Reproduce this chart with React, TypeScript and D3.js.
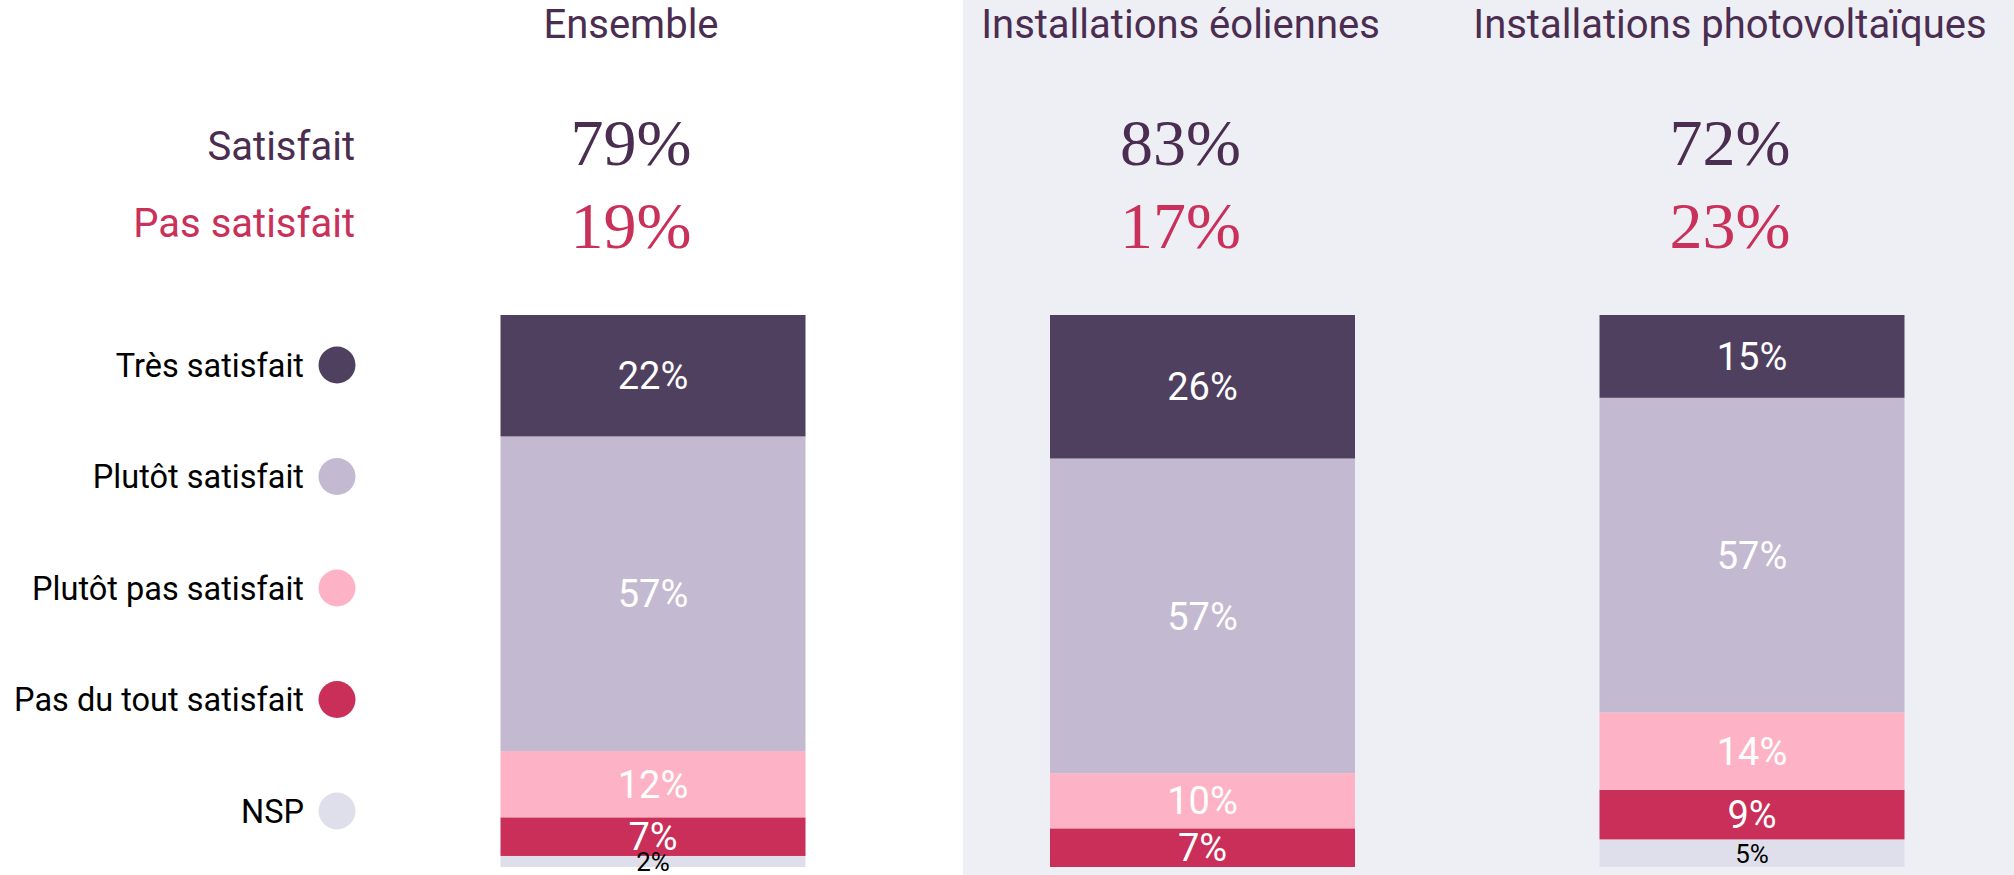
import React, { useEffect, useRef } from 'react';
import * as d3 from 'd3';

const width = 2014;
const height = 875;

// groups (columns) and answer categories
const groups = ["Ensemble", "Installations éoliennes", "Installations photovoltaïques"];
const categories = ["Très satisfait", "Plutôt satisfait", "Plutôt pas satisfait", "Pas du tout satisfait", "NSP"];
const colors = ["#50405f", "#c3b9d1", "#fdb3c5", "#c92f58", "#dedfeb"];

// values per group
const tresSatisfait = [22, 26, 15];
const plutotSatisfait = [57, 57, 57];
const plutotPasSatisfait = [12, 10, 14];
const pasDuToutSatisfait = [7, 7, 9];
const nsp = [2, 0, 5];

const satisfaitTotal = [79, 83, 72];
const pasSatisfaitTotal = [19, 17, 23];

const purple = "#4a2d50";
const crimson = "#c9305a";
const sans = "Roboto, sans-serif";
const serif = "'Liberation Serif', 'DejaVu Serif', serif";

const App = () => {
    const ref = useRef(null);

    useEffect(() => {
        const svg = d3.select(ref.current);
        svg.selectAll("*").remove();

        const rows = groups.map((g, i) => ({
            name: g,
            "Très satisfait": tresSatisfait[i],
            "Plutôt satisfait": plutotSatisfait[i],
            "Plutôt pas satisfait": plutotPasSatisfait[i],
            "Pas du tout satisfait": pasDuToutSatisfait[i],
            "NSP": nsp[i],
        }));

        const keys = categories.slice().reverse(); // NSP at the bottom
        const series = d3.stack().keys(keys)(rows)
            .map(d => (d.forEach(v => v.key = d.key), d));

        const color = d3.scaleOrdinal().domain(categories).range(colors);

        const x = d3.scalePoint().domain(groups).range([653, 1752]);
        const barW = 305;
        const y = d3.scaleLinear().domain([0, 100]).range([867, 315]);
        const titleShift = -22;

        // grey panel behind the two right columns
        svg.append("rect")
            .attr("x", 963).attr("y", 0)
            .attr("width", width - 963).attr("height", height)
            .attr("fill", "#eeeff4");

        // column titles
        svg.append("g").selectAll("text")
            .data(groups)
            .join("text")
            .attr("x", d => x(d) + titleShift)
            .attr("y", 38)
            .attr("text-anchor", "middle")
            .attr("font-family", sans)
            .attr("font-size", 40)
            .attr("fill", purple)
            .text(d => d);

        // row labels for totals
        svg.append("text")
            .attr("x", 355).attr("y", 160)
            .attr("text-anchor", "end")
            .attr("font-family", sans).attr("font-size", 40)
            .attr("fill", purple)
            .text("Satisfait");
        svg.append("text")
            .attr("x", 355).attr("y", 237)
            .attr("text-anchor", "end")
            .attr("font-family", sans).attr("font-size", 40)
            .attr("fill", crimson)
            .text("Pas satisfait");

        // big totals
        svg.append("g").selectAll("text")
            .data(groups)
            .join("text")
            .attr("x", d => x(d) + titleShift)
            .attr("y", 165)
            .attr("text-anchor", "middle")
            .attr("font-family", serif)
            .attr("font-size", 66)
            .attr("fill", purple)
            .text((d, i) => `${satisfaitTotal[i]}%`);
        svg.append("g").selectAll("text")
            .data(groups)
            .join("text")
            .attr("x", d => x(d) + titleShift)
            .attr("y", 248)
            .attr("text-anchor", "middle")
            .attr("font-family", serif)
            .attr("font-size", 66)
            .attr("fill", crimson)
            .text((d, i) => `${pasSatisfaitTotal[i]}%`);

        // legend
        const legendY = d3.scalePoint().domain(categories).range([365, 811]);
        const legend = svg.append("g").selectAll("g")
            .data(categories)
            .join("g")
            .attr("transform", d => `translate(0,${legendY(d)})`);
        legend.append("circle")
            .attr("cx", 337).attr("r", 18.5)
            .attr("fill", d => color(d));
        legend.append("text")
            .attr("x", 304)
            .attr("dy", "0.36em")
            .attr("text-anchor", "end")
            .attr("font-family", sans)
            .attr("font-size", 32.5)
            .attr("fill", "#000")
            .text(d => d);

        // stacked bars
        const layers = svg.append("g")
            .selectAll("g")
            .data(series)
            .join("g")
            .attr("fill", d => color(d.key));
        layers.selectAll("rect")
            .data(d => d.filter(v => v[1] - v[0] > 0))
            .join("rect")
            .attr("x", d => x(d.data.name) - barW / 2)
            .attr("y", d => y(d[1]))
            .attr("width", barW)
            .attr("height", d => y(d[0]) - y(d[1]));

        // segment labels
        const labels = series.flatMap(s => s.filter(v => v[1] - v[0] > 0));
        svg.append("g").selectAll("text")
            .data(labels)
            .join("text")
            .attr("x", d => x(d.data.name))
            .attr("y", d => (y(d[0]) + y(d[1])) / 2)
            .attr("dy", "0.36em")
            .attr("text-anchor", "middle")
            .attr("font-family", sans)
            .attr("font-size", d => d.key === "NSP" ? 26 : 38)
            .attr("fill", d => d.key === "NSP" ? "#000" : "#fff")
            .text(d => `${d[1] - d[0]}%`);
    }, []);

    return (
        <svg ref={ref} width={width} height={height}
            style={{ position: "absolute", left: 0, top: 0, background: "#fff" }} />
    );
};

export default App;
